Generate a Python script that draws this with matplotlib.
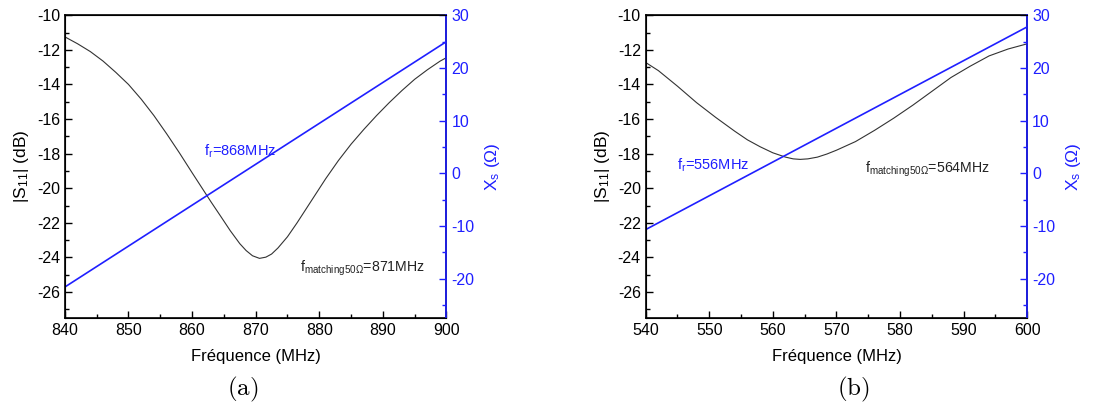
import matplotlib
matplotlib.use("Agg")
import matplotlib.pyplot as plt
import numpy as np
from matplotlib.ticker import MultipleLocator

plt.rcParams['font.family'] = ['Liberation Sans', 'DejaVu Sans']
plt.rcParams['axes.unicode_minus'] = False
plt.rcParams['mathtext.fontset'] = 'custom'
plt.rcParams['mathtext.rm'] = 'Liberation Sans'
plt.rcParams['mathtext.it'] = 'Liberation Sans'

BLUE = '#1f1fff'

# panel (a)
freq_a = [840, 842, 844, 846, 848, 850, 852, 854, 856, 858, 860, 861.5, 863,
          864.5, 866, 867.5, 868.5, 869.5, 870.6, 871.6, 872.5, 873.5, 875,
          876.5, 878, 879.5, 881, 883, 885, 887, 889, 891, 893, 895, 897, 899,
          900]
s11_a = [-11.25, -11.65, -12.1, -12.65, -13.3, -14.0, -14.85, -15.8, -16.85,
         -17.95, -19.1, -19.95, -20.8, -21.62, -22.45, -23.2, -23.6, -23.9,
         -24.05, -23.98, -23.8, -23.45, -22.8, -22.0, -21.15, -20.3, -19.45,
         -18.4, -17.45, -16.6, -15.8, -15.05, -14.35, -13.7, -13.15, -12.65,
         -12.45]
xs_freq_a = [840, 900]
xs_a = [-21.6, 25.0]

# panel (b)
freq_b = [540, 542, 545, 548, 551, 554, 556, 558, 560, 562, 563.2, 564.3,
          565.5, 567, 568.5, 570, 573, 576, 579, 582, 585, 588, 591, 594,
          597, 600]
s11_b = [-12.73, -13.2, -14.1, -15.05, -15.9, -16.7, -17.2, -17.6, -17.95,
         -18.2, -18.3, -18.33, -18.3, -18.2, -18.02, -17.8, -17.3, -16.65,
         -15.95, -15.2, -14.4, -13.6, -12.95, -12.35, -11.95, -11.65]
xs_freq_b = [540, 600]
xs_b = [-10.7, 27.8]

fig = plt.figure(figsize=(11.19, 4.12), dpi=100)


def panel(rect, freq, s11, xf, xs, xlim, fr_txt, fr_pos, fm_txt, fm_pos,
          cap, cap_x):
    ax = fig.add_axes(rect)
    ax.plot(freq, s11, color='#333333', lw=0.8)
    ax.set_xlim(*xlim)
    ax.set_ylim(-27.5, -10)
    ax.xaxis.set_major_locator(MultipleLocator(10))
    ax.xaxis.set_minor_locator(MultipleLocator(5))
    ax.yaxis.set_major_locator(MultipleLocator(2))
    ax.yaxis.set_minor_locator(MultipleLocator(1))
    ax.tick_params(which='both', direction='in', top=False, right=False,
                   labelsize=11.5, width=1)
    ax.tick_params(which='major', length=5)
    ax.tick_params(which='minor', length=3)
    ax.set_xlabel('Fréquence (MHz)', fontsize=12, labelpad=8)
    ax.set_ylabel('|S$_{11}$| (dB)', fontsize=12.5, labelpad=4)
    for s in ax.spines.values():
        s.set_linewidth(1.2)

    ax2 = ax.twinx()
    ax2.plot(xf, xs, color=BLUE, lw=1.2)
    ax2.set_ylim(-27.5, 30)
    ax2.yaxis.set_major_locator(MultipleLocator(10))
    ax2.yaxis.set_minor_locator(MultipleLocator(5))
    ax2.tick_params(which='both', direction='in', colors=BLUE,
                    labelsize=11.5, width=1)
    ax2.tick_params(which='major', length=5)
    ax2.tick_params(which='minor', length=3)
    ax2.spines['right'].set_color(BLUE)
    ax2.spines['right'].set_linewidth(1.2)
    ax2.set_ylabel('X$_s$ ($\\Omega$)', color=BLUE, fontsize=12.5,
                   labelpad=6)

    ax.text(fr_pos[0], fr_pos[1], fr_txt, color=BLUE, fontsize=10.5)
    ax.text(fm_pos[0], fm_pos[1], fm_txt, color='#222222', fontsize=10.2)
    fig.text(cap_x, 0.02, cap, ha='center', va='bottom', fontsize=18,
             math_fontfamily='cm')


panel([0.058, 0.228, 0.341, 0.735], freq_a, s11_a, xs_freq_a, xs_a,
      (840, 900), 'f$_r$=868MHz', (861.8, -18.1),
      'f$_{matching50\\Omega}$=871MHz', (877.0, -24.8),
      r'$\mathrm{(a)}$', 0.217)
panel([0.577, 0.228, 0.341, 0.735], freq_b, s11_b, xs_freq_b, xs_b,
      (540, 600), 'f$_r$=556MHz', (545.0, -18.9),
      'f$_{matching50\\Omega}$=564MHz', (574.5, -19.1),
      r'$\mathrm{(b)}$', 0.763)

fig.savefig('out.png', dpi=100)
